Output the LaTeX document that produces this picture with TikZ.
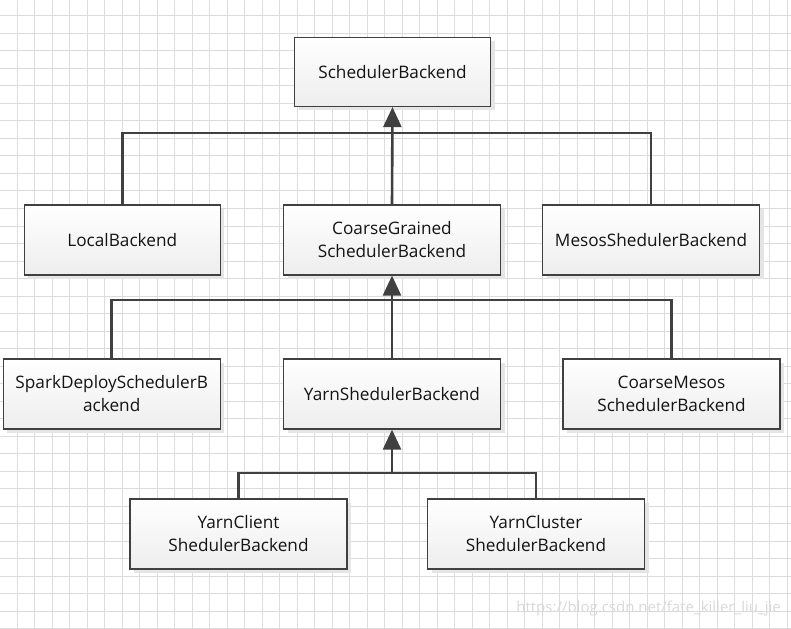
\documentclass[tikz,border=0pt]{standalone}
\usepackage{fontspec}
\setmainfont{Open Sans}
\usetikzlibrary{arrows.meta,shadows}
\definecolor{edge}{HTML}{404040}
\definecolor{gridc}{HTML}{DCDCDC}
\tikzset{
  cls/.style={draw=edge, line width=1.2bp, top color=white, bottom color=black!7,
    minimum height=70bp, align=center, inner sep=2bp,
    font=\fontsize{17.2bp}{23bp}\selectfont, text=black!92,
    drop shadow={shadow xshift=4bp, shadow yshift=-4bp, fill=black!10, opacity=1}},
  wide/.style={cls, minimum width=217bp},
  narrow/.style={cls, minimum width=196bp},
  link/.style={draw=edge, line width=2.6bp},
  inherit/.style={link, -{Triangle[length=20bp,width=18bp]}, color=edge},
}
\begin{document}
\begin{tikzpicture}[x=1bp,y=-1bp]
\useasboundingbox (0,0) rectangle (791,629);
\fill[white] (0,0) rectangle (791,629);
% grid
\foreach \k in {1,...,45} { \draw[gridc, line width=1bp] ({-0.2+17.5*\k},0) -- ({-0.2+17.5*\k},629); }
\foreach \j in {0,...,35} { \draw[gridc, line width=1bp] (0,{16+17.5*\j}) -- (791,{16+17.5*\j}); }

\node[narrow, minimum height=69bp] (sb) at (392.5,72) {SchedulerBackend};

\node[narrow] (local) at (122.3,240) {LocalBackend};
\node[wide] (cg) at (392,240) {CoarseGrained\\SchedulerBackend};
\node[wide] (mesos) at (651,240) {MesosShedulerBackend};

\node[wide] (spark) at (111.7,394) {SparkDeploySchedulerB\\ackend};
\node[wide] (yarn) at (392,394) {YarnShedulerBackend};
\node[wide] (cmesos) at (671.5,394) {CoarseMesos\\SchedulerBackend};

\node[wide] (client) at (238.5,534) {YarnClient\\ShedulerBackend};
\node[wide] (cluster) at (536,534) {YarnCluster\\ShedulerBackend};

\coordinate (j1) at (392,133);
\coordinate (j2) at (392,300);
\coordinate (j3) at (392,473);

\draw[link] (local.north) |- (j1) -| (mesos.north);
\draw[inherit] (cg.north) -- (sb.south);

\draw[link] (spark.north) |- (j2) -| (cmesos.north);
\draw[inherit] (yarn.north) -- (cg.south);

\draw[link] (client.north) |- (j3) -| (cluster.north);
\draw[inherit] (j3) -- (yarn.south);

\node[anchor=base east, text=black!15, font=\fontsize{15bp}{17bp}\selectfont, inner sep=0pt] (wm) at (781,612) {https://blog.csdn.net/fate\_killer\_liu\_jie};
\end{tikzpicture}
\end{document}
